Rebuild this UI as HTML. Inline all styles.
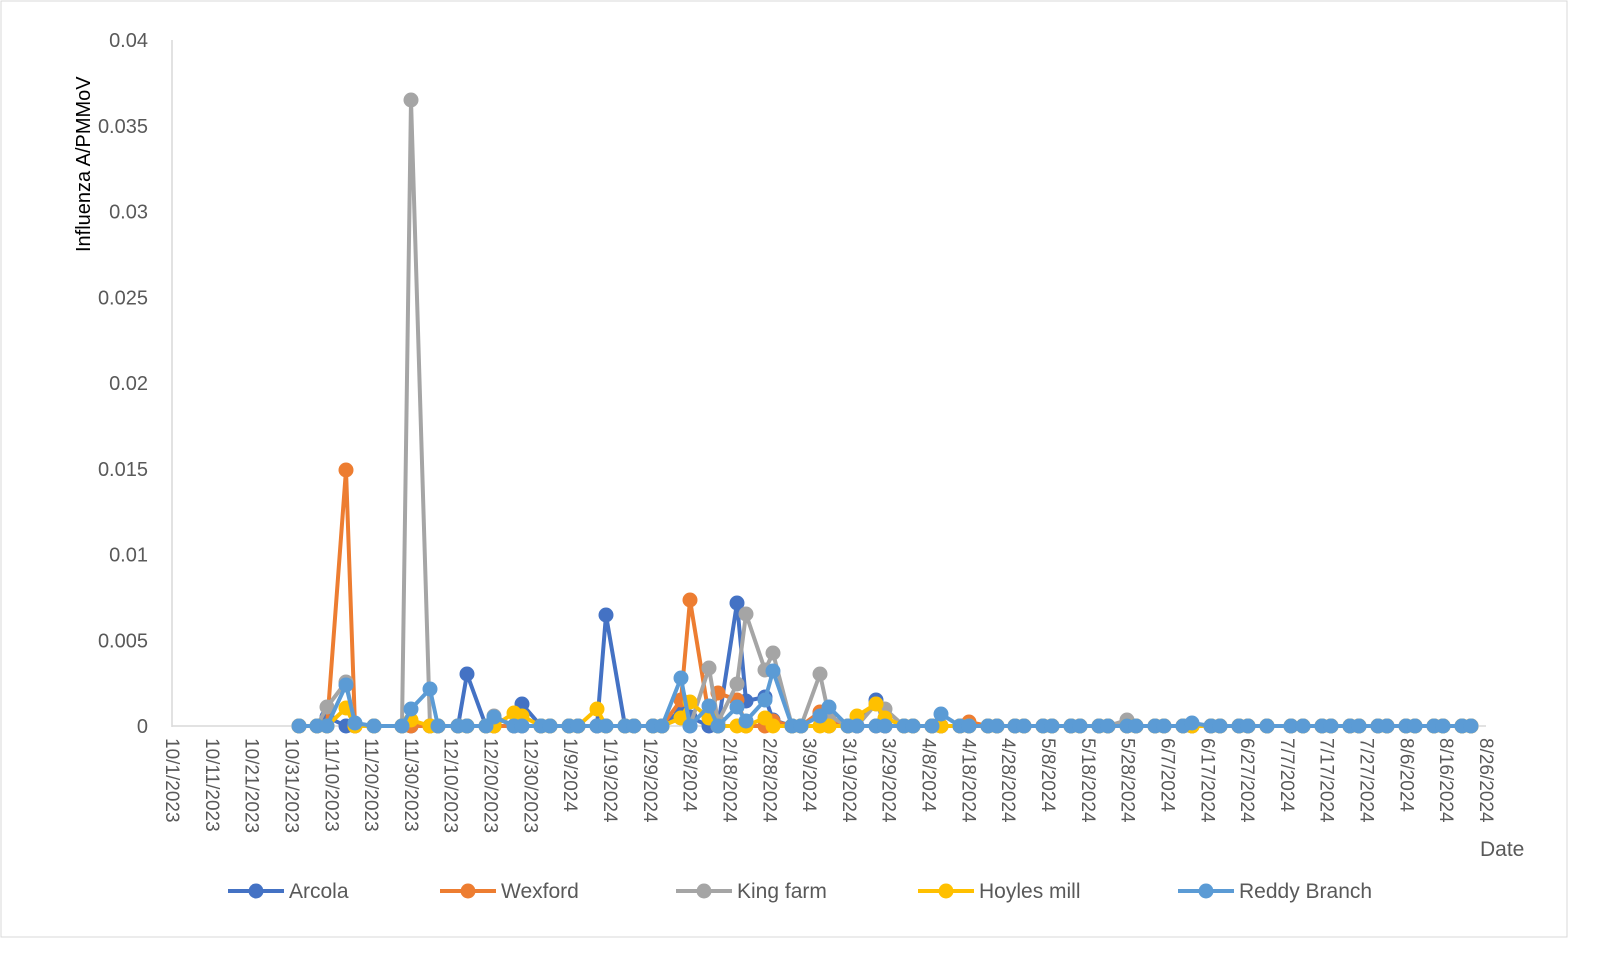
<!DOCTYPE html>
<html><head><style>
body{margin:0;background:#fff}
svg{display:block;font-family:"Liberation Sans",sans-serif}
</style></head><body>
<svg id="s" width="1600" height="958" viewBox="0 0 1600 958">
<rect x="1" y="1" width="1566" height="936" fill="#fff" stroke="#d9d9d9"/>
<g id="g"></g>
</svg>
<script>
const NS="http://www.w3.org/2000/svg",g=document.getElementById('g');
function el(t,a,txt){const e=document.createElementNS(NS,t);for(const k in a)e.setAttribute(k,a[k]);if(txt!==undefined)e.textContent=txt;g.appendChild(e);return e;}
const y0=726,x0=172,pd=(1486-172)/330;
el('line',{x1:172,y1:40,x2:172,y2:727,stroke:'#d9d9d9','stroke-width':1.5});
el('line',{x1:172,y1:726,x2:1486,y2:726,stroke:'#d9d9d9','stroke-width':1.5});
const yl=['0','0.005','0.01','0.015','0.02','0.025','0.03','0.035','0.04'];
yl.forEach((t,i)=>el('text',{x:148,y:y0-i*85.75+7,'text-anchor':'end','font-size':20,fill:'#595959'},t));
const start=new Date(2023,9,1);
for(let i=0;i<=33;i++){const d=new Date(start.getTime()+i*10*86400000+3600000*3);const t=(d.getMonth()+1)+'/'+d.getDate()+'/'+d.getFullYear();const x=x0+i*10*pd;
el('text',{x:0,y:0,transform:`translate(${x-6},738) rotate(90)`,'font-size':19,fill:'#595959'},t);}
el('text',{x:0,y:0,transform:'translate(90,252) rotate(-90)','font-size':20,fill:'#000'},'Influenza A/PMMoV');
el('text',{x:1480,y:856,'font-size':21,fill:'#595959'},'Date');
const X=[299,317,327,346,355,374,402,411,430,438,458,467,486,494,514,522,541,550,569,578,597,606,625,634,653,662,681,690,709,718,737,746,765,773,792,801,820,829,848,857,876,885,904,913,932,941,960,969,988,997,1015,1024,1043,1052,1071,1080,1099,1108,1127,1136,1155,1164,1183,1192,1211,1220,1239,1248,1267,1291,1303,1322,1331,1350,1359,1378,1387,1406,1415,1434,1443,1462,1471];
const S=[
['#4472c4','Arcola',{327:717,467:674,522:704,606:615,681:710,690:717,737:603,746:701,765:697,773:720,820:713,876:700}],
['#ed7d31','Wexford',{346:470,681:700,690:600,709:716,718:693,737:700,773:721,820:712,829:720,969:722}],
['#a5a5a5','King farm',{327:707,346:682,355:724,411:100,494:716,681:718,709:668,718:722,737:684,746:614,765:670,773:653,820:674,829:716,876:704,885:709,1127:720}],
['#ffc000','Hoyles mill',{346:708,411:720,514:713,522:716,597:709,681:718,690:702,709:718,765:718,857:716,876:704,885:718}],
['#5b9bd5','Reddy Branch',{346:685,355:723,411:709,430:689,494:717,681:678,709:706,737:707,746:721,765:700,773:671,820:716,829:707,941:714,1192:723}]];
S.forEach(([c,n,o])=>{const pts=X.map(x=>[x,o[x]!==undefined?o[x]:y0]);
el('polyline',{points:pts.map(p=>p.join(',')).join(' '),fill:'none',stroke:c,'stroke-width':4,'stroke-linejoin':'round'});
pts.forEach(p=>el('circle',{cx:p[0],cy:p[1],r:7.5,fill:c}));});
const lx=[228,440,676,918,1178];
S.forEach(([c,n],i)=>{const x=lx[i];el('line',{x1:x,y1:891,x2:x+56,y2:891,stroke:c,'stroke-width':4});el('circle',{cx:x+28,cy:891,r:7.5,fill:c});el('text',{x:x+61,y:898,'font-size':21,fill:'#595959'},n);});
</script>
</body></html>
